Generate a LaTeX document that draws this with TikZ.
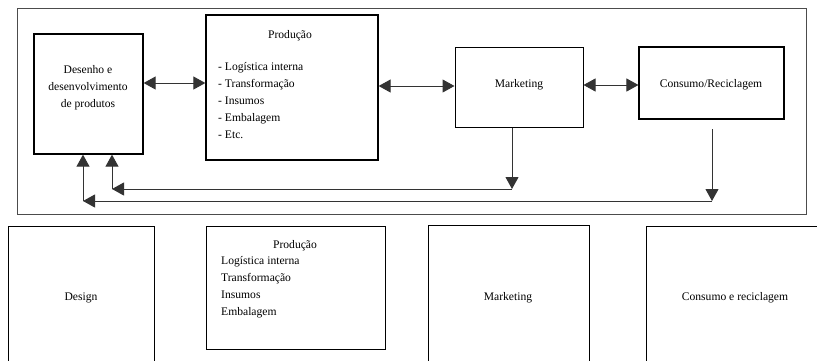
\documentclass[tikz,border=0pt]{standalone}
\usepackage{fontspec}
\setmainfont{Liberation Serif}
\usetikzlibrary{arrows.meta}
\begin{document}
\begin{tikzpicture}[x=1pt,y=-1pt,
  box/.style={draw=black,line width=1.3pt,rectangle,inner sep=0pt},
  lbl/.style={font=\fontsize{11.6}{17}\selectfont,inner sep=0pt,align=center},
  conn/.style={draw=black!80,line width=1pt},
  tip/.style={-{Triangle[length=12pt,width=13pt]}},
  both/.style={{Triangle[length=12pt,width=13pt]}-{Triangle[length=12pt,width=13pt]}}]
\useasboundingbox (0,0) rectangle (817,360);
\begin{scope}
\clip (0,0) rectangle (817,360);
% outer frame
\draw[draw=black!70,line width=1pt] (17,8) rectangle (806,214);
% top row boxes
\node[box,minimum width=109pt,minimum height=120pt] (des) at (88.5,94) {};
\node[lbl] at (88,88) {Desenho e\\desenvolvimento\\de produtos};
\node[box,minimum width=172pt,minimum height=145pt] (prod) at (292,87.5) {};
\node[lbl] at (290,36) {Produção};
\node[lbl,align=left,anchor=north west] at (218,62) {- Logística interna\\- Transformação\\- Insumos\\- Embalagem\\- Etc.};
\node[box,line width=1pt,minimum width=128pt,minimum height=80pt] (mkt) at (519,87) {};
\node[lbl] at (519,85) {Marketing};
\node[box,line width=1.1pt,minimum width=145pt,minimum height=72pt] (cons) at (711.5,83) {};
\node[lbl] at (711,85) {Consumo/Reciclagem};
% horizontal double arrows
\draw[conn,both] (des.east |- 0,83) -- (prod.west |- 0,83);
\draw[conn,both] (prod.east |- 0,86) -- (mkt.west |- 0,86);
\draw[conn,both] (mkt.east |- 0,85) -- (cons.west |- 0,85);
% feedback loops
\coordinate (m1) at (512,189);
\coordinate (m2) at (112,189);
\coordinate (c1) at (712,201);
\coordinate (c2) at (83,201);
\draw[conn,tip] (mkt.south -| m1) -- (m1);
\draw[conn,tip] (m1) -- (m2);
\draw[conn,tip] (m2) -- (m2 |- des.south);
\draw[conn,tip] (712,129) -- (c1);
\draw[conn,tip] (c1) -- (c2);
\draw[conn,tip] (c2) -- (c2 |- des.south);
% bottom row boxes
\node[box,minimum width=146pt,minimum height=160pt,anchor=north west] (design) at (8,226) {};
\node[lbl] at (81,298) {Design};
\node[box,minimum width=179pt,minimum height=123pt,anchor=north west] (prod2) at (206,226) {};
\node[lbl] at (295,246) {Produção};
\node[lbl,align=left,anchor=north west] at (221,256) {Logística interna\\Transformação\\Insumos\\Embalagem};
\node[box,minimum width=161pt,minimum height=160pt,anchor=north west] (mkt2) at (428,225) {};
\node[lbl] at (508,298) {Marketing};
\node[box,minimum width=200pt,minimum height=160pt,anchor=north west] (cons2) at (646,226) {};
\node[lbl] at (735,298) {Consumo e reciclagem};
\end{scope}
\end{tikzpicture}
\end{document}
